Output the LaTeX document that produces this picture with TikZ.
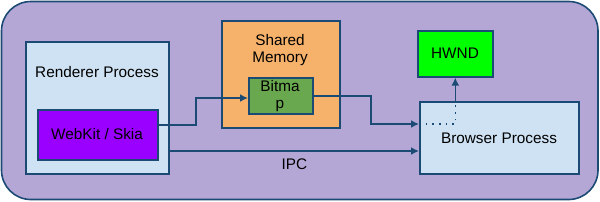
\documentclass[tikz,border=0pt]{standalone}
\usepackage{fontspec}
\setmainfont{Liberation Sans}
\usetikzlibrary{arrows.meta}
\definecolor{lineblue}{HTML}{1B4A74}
\definecolor{outerfill}{HTML}{B4A7D6}
\definecolor{procfill}{HTML}{CFE2F3}
\definecolor{shmfill}{HTML}{F6B26B}
\definecolor{bmpfill}{HTML}{6AA84F}
\definecolor{hwndfill}{HTML}{00FF00}
\definecolor{wkfill}{HTML}{9900FF}
\begin{document}
\begin{tikzpicture}[x=0.75pt,y=-0.75pt,
  box/.style={draw=lineblue,line width=1.2pt,inner sep=0pt,anchor=north west},
  lbl/.style={font=\fontsize{11.5}{13}\selectfont,align=center,text=black},
  conn/.style={draw=lineblue,line width=1.2pt,-{Latex[length=6pt,width=6pt]}},
  dotconn/.style={draw=lineblue,line width=1.2pt,dash pattern=on 1.3pt off 3.7pt}]
\useasboundingbox (0,0) rectangle (600,201);
\draw[draw=lineblue,line width=1.2pt,fill=outerfill,rounded corners=22pt] (1.5,1.5) rectangle (598,199.5);
% Renderer
\node[box,fill=procfill,minimum width=143*0.75pt,minimum height=132*0.75pt] (rend) at (25,41) {};
\node[lbl] (rendl) at (97,72) {Renderer Process};
\node[box,fill=wkfill,minimum width=120*0.75pt,minimum height=50*0.75pt] (wk) at (37,109) {};
\node[lbl] (wkl) at (97,134) {WebKit / Skia};
% Shared memory
\node[box,fill=shmfill,minimum width=118*0.75pt,minimum height=107*0.75pt] (shm) at (221,20) {};
\node[lbl] (shml) at (280,50) {Shared\\Memory};
\node[box,fill=bmpfill,minimum width=64*0.75pt,minimum height=36*0.75pt] (bmp) at (248,77) {};
\node[lbl] (bmpl) at (280,96) {Bitma\\p};
% HWND
\node[box,fill=hwndfill,minimum width=75*0.75pt,minimum height=46*0.75pt] (hwnd) at (417,30) {};
\node[lbl] (hwndl) at (455,53) {HWND};
% Browser
\node[box,fill=procfill,minimum width=159*0.75pt,minimum height=72*0.75pt] (brow) at (419,101) {};
\node[lbl] (browl) at (499,138) {Browser Process};
% connectors
\coordinate (wkout) at (wk.east |- 0,125);
\coordinate (bmpin) at (bmp.west |- 0,98);
\draw[conn] (wkout) -| (196,112) |- (bmpin);
\coordinate (bmpout) at (bmp.east |- 0,96);
\coordinate (brin) at (brow.west |- 0,124);
\draw[conn] (bmpout) -| (371,110) |- (brin);
\coordinate (rendout) at (rend.east |- 0,151);
\coordinate (brin2) at (brow.west |- 0,151);
\draw[conn] (rendout) -- node[below=2pt,lbl] (ipc) {IPC} (brin2);
\coordinate (hwup) at (brow.north -| hwnd.south);
\draw[dotconn] (brin) -| (hwup);
\draw[conn] (hwup) -- (hwnd.south);
\end{tikzpicture}
\end{document}
